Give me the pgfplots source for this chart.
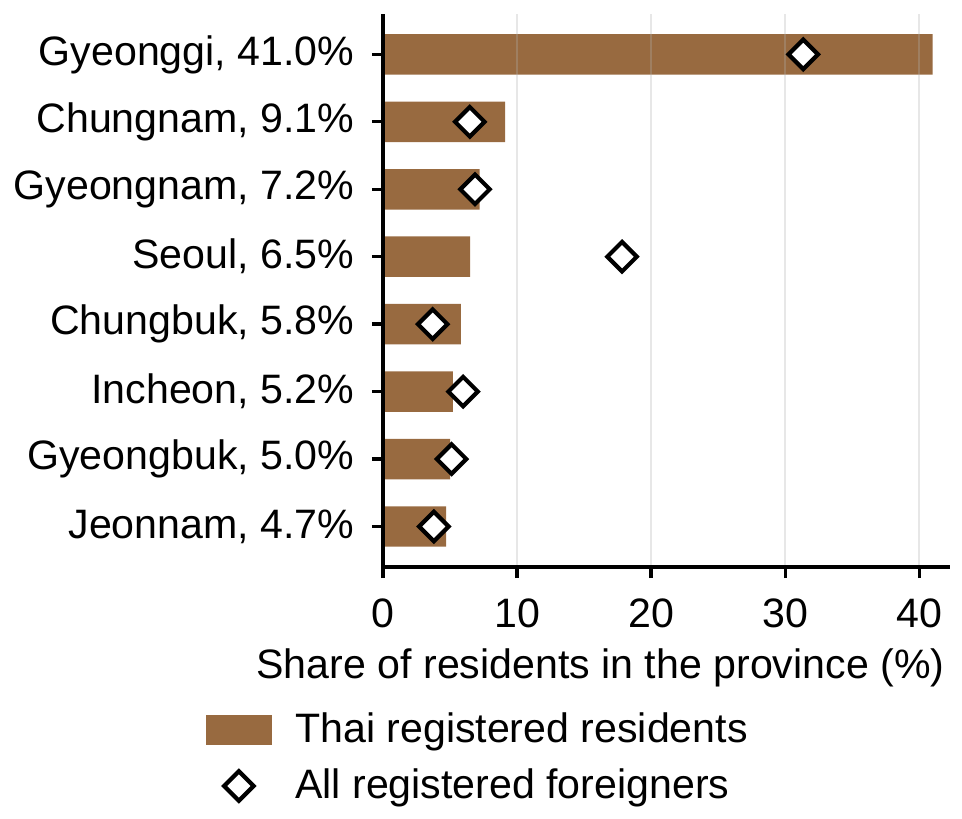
\documentclass[border=0pt]{standalone}
\usepackage{pgfplots}
\pgfplotsset{compat=1.18}
\usepackage{fontspec}
\setmainfont{Liberation Sans}
\definecolor{thaibrown}{RGB}{152,106,64}
\definecolor{gridgray}{RGB}{176,176,176}
\newcommand{\lbl}{\fontsize{14.8}{17.8}\selectfont}
\pgfplotsset{
  marklegend/.style={legend image code/.code={\draw[mark repeat=2, mark phase=2, ##1]
    plot coordinates {(0pt,0pt) (12pt,0pt) (24pt,0pt)};}},
}

\begin{document}
\begin{tikzpicture}
\begin{axis}[
  at={(0,0)}, anchor=south west,
  scale only axis,
  width=204.1pt, height=199.1pt,
  xmin=0, xmax=42.3,
  ymin=-0.6, ymax=7.6,
  axis lines=left,
  axis line style={-, line width=1.2pt},
  tick style={line width=1.2pt, black},
  major tick length=4pt,
  tick align=outside,
  axis on top,
  xtick={0,10,20,30,40},
  ytick={0,1,2,3,4,5,6,7},
  yticklabels={{Jeonnam, 4.7\%},{Gyeongbuk, 5.0\%},{Incheon, 5.2\%},{Chungbuk, 5.8\%},
               {Seoul, 6.5\%},{Gyeongnam, 7.2\%},{Chungnam, 9.1\%},{Gyeonggi, 41.0\%}},
  xmajorgrids,
  grid style={color=gridgray, opacity=0.3, line width=0.55pt},
  /pgf/number format/assume math mode=true,
  ticklabel style={font=\lbl, inner sep=0pt},
  yticklabel style={anchor=east, xshift=-6.2pt},
  xticklabel style={anchor=north, yshift=-7.3pt},
  xlabel={Share of residents in the province (\%)},
  xlabel style={font=\lbl, inner sep=0pt, anchor=base east,
                at={(axis description cs:0.991,0)}, yshift=-40pt},
  legend style={font=\lbl, draw=none, fill=none, inner sep=0pt,
                at={(axis description cs:-0.3141,-0.2622)}, anchor=north west,
                column sep=8.3pt, row sep=8.1pt,
                nodes={inner sep=0pt}},
  legend cell align=left,
]
\addplot[xbar, bar width=0.6, fill=thaibrown, draw=none,
  legend image code/.code={\fill[thaibrown] (0pt,-5.4pt) rectangle (24pt,5.4pt);}]
  coordinates {(41.0,7) (9.1,6) (7.2,5) (6.5,4) (5.8,3) (5.2,2) (5.0,1) (4.7,0)};
\addplot[only marks, mark=square*, mark size=3.75pt,
  mark options={fill=white, draw=black, line width=1.5pt, rotate=45},
  marklegend]
  coordinates {(31.35,7) (6.47,6) (6.86,5) (17.83,4) (3.70,3) (5.97,2) (5.11,1) (3.79,0)};
\legend{Thai registered residents, All registered foreigners}
\end{axis}
\pgfresetboundingbox
\path[use as bounding box] (-137.9pt,-90.7pt) rectangle (208.4pt,204.1pt);
\end{tikzpicture}
\end{document}
